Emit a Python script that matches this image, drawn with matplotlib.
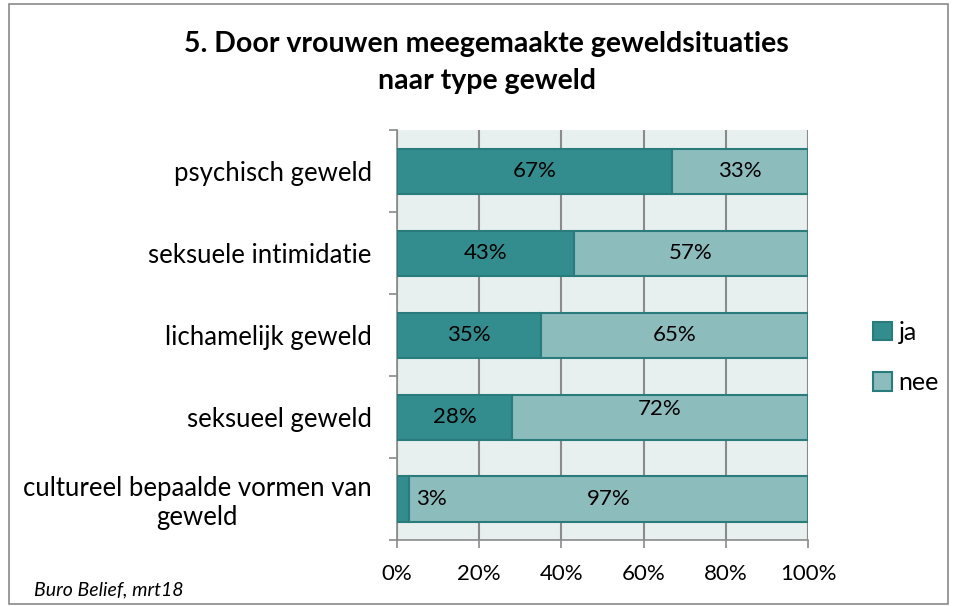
import matplotlib.pyplot as plt
import numpy as np
from matplotlib.patches import Rectangle

plt.rcParams['font.family'] = ['Lato', 'DejaVu Sans']

categories = ["psychisch geweld", "seksuele intimidatie", "lichamelijk geweld",
              "seksueel geweld", "cultureel bepaalde vormen van\ngeweld"]
ja = [67, 43, 35, 28, 3]
nee = [33, 57, 65, 72, 97]

c_ja = "#338d8e"
c_nee = "#8dbcbd"
c_edge = "#2a7b7c"

fig = plt.figure(figsize=(9.54, 6.06), dpi=100)
ax = fig.add_axes([0.416, 0.109, 0.431, 0.676])
ax.set_facecolor("#e8f0ef")

y = np.arange(len(categories))[::-1]
ax.barh(y, ja, height=0.55, color=c_ja, edgecolor=c_edge, linewidth=1.5, label="ja", zorder=3)
ax.barh(y, nee, left=ja, height=0.55, color=c_nee, edgecolor=c_edge, linewidth=1.5, label="nee", zorder=3)

for yi, a, b in zip(y, ja, nee):
    xa = a / 2 if a > 10 else a + 5.5
    ax.text(xa, yi, f"{a}%", ha="center", va="center", fontsize=16, zorder=4)
    ax.text(a + b / 2, yi + (0.1 if b == 72 else 0), f"{b}%", ha="center", va="center", fontsize=16, zorder=4)

ax.set_xlim(0, 100)
ax.set_ylim(-0.5, len(categories) - 0.5)
ax.set_xticks(np.arange(0, 101, 20))
ax.set_xticklabels([f"{v}%" for v in range(0, 101, 20)], fontsize=16)
ax.set_yticks(y)
ax.set_yticklabels(categories, fontsize=18.5, linespacing=1.2)
ax.set_yticks(np.arange(-0.5, len(categories), 1), minor=True)
ax.tick_params(axis="y", which="major", length=0, pad=18)
ax.tick_params(axis="y", which="minor", length=6, color="#8a8a8a", width=1.2)
ax.tick_params(axis="x", length=6, color="#8a8a8a", width=1.2, pad=11)
ax.grid(axis="x", color="#8a8a8a", linewidth=1.5, zorder=1)
for s in ["top", "right"]:
    ax.spines[s].set_visible(False)
for s in ["left", "bottom"]:
    ax.spines[s].set_color("#8a8a8a")
    ax.spines[s].set_linewidth(1.2)
for t in ax.get_yticklabels():
    t.set_multialignment("center")

leg = fig.legend(loc="center left", bbox_to_anchor=(0.892, 0.41), frameon=False,
                 fontsize=18, handlelength=0.75, handleheight=0.75, labelspacing=1.1,
                 handletextpad=0.25)

fig.text(0.51, 0.897, "5. Door vrouwen meegemaakte geweldsituaties\nnaar type geweld",
         ha="center", va="center", fontsize=20.5, fontweight="bold", linespacing=1.55)
fig.text(0.036, 0.018, "Buro Belief, mrt18", fontsize=14, style="italic")

fig.patches.append(Rectangle((0.009, 0.003), 0.985, 0.99, transform=fig.transFigure,
                             fill=False, edgecolor="#8a8a8a", linewidth=1.2))

fig.savefig("out.png", dpi=100)
